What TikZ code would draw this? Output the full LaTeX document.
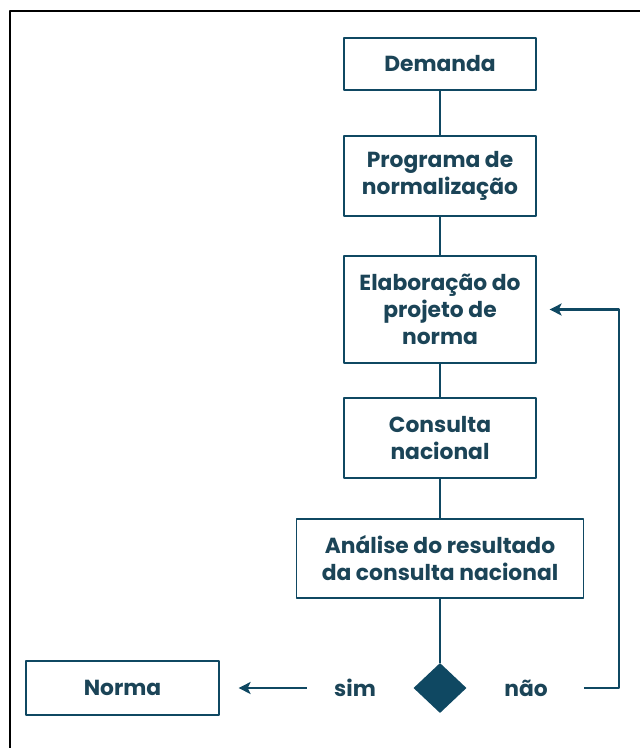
\documentclass[tikz,border=0pt]{standalone}
\usepackage{fontspec}
\setmainfont{Poppins}
\usetikzlibrary{shapes.geometric,arrows.meta}
\definecolor{azul}{HTML}{0F4862}
\definecolor{texto}{HTML}{1B4457}
\begin{document}
\begin{tikzpicture}[x=1pt,y=-1pt,font=\fontsize{21.8}{27}\selectfont\bfseries,line join=round,>={Stealth[length=12pt,width=12pt,inset=3pt]}]
	\tikzset{caixa/.style={draw=azul,line width=1.2pt,text=texto,align=center,minimum width=192pt,inner sep=0pt},
		liga/.style={draw=azul,line width=2.2pt},
		rotulo/.style={text=texto,inner sep=0pt}}
	\useasboundingbox (0,0) rectangle (640,748);
	\draw[line width=2pt] (10,748)--(10,11)--(640,11);
	% caixas do fluxo
	\node[caixa,minimum height=52pt] (demanda) at (440,64) {Demanda};
	\node[caixa,minimum height=80pt] (programa) at (440,176) {Programa de\\normalização};
	\node[caixa,minimum height=107pt] (elaboracao) at (440,309.5) {Elaboração do\\projeto de\\norma};
	\node[caixa,minimum height=80pt] (consulta) at (440,438) {Consulta\\nacional};
	\node[caixa,minimum width=287pt,minimum height=79pt] (analise) at (440,558.5) {Análise do resultado\\da consulta nacional};
	\node[caixa,minimum width=193pt,minimum height=54pt] (norma) at (122.5,688) {Norma};
	\node[diamond,fill=azul,minimum width=53pt,minimum height=50pt,inner sep=0pt] (decisao) at (440,688) {};
	\node[rotulo] (sim) at (355,688) {sim};
	\node[rotulo] (nao) at (526,688) {não};
	\coordinate (canto) at (619,688);
	% ligacoes
	\draw[liga] (demanda.south)--(programa.north);
	\draw[liga] (programa.south)--(elaboracao.north);
	\draw[liga] (elaboracao.south)--(consulta.north);
	\draw[liga] (consulta.south)--(analise.north);
	\draw[liga] (analise.south)--(decisao.north);
	\draw[liga,->,shorten <=27pt,shorten >=19pt] (sim.west)--(norma.east);
	\draw[liga,->,shorten >=13pt] ([xshift=36pt]nao.east)--(canto)|-(elaboracao.east);
\end{tikzpicture}
\end{document}
